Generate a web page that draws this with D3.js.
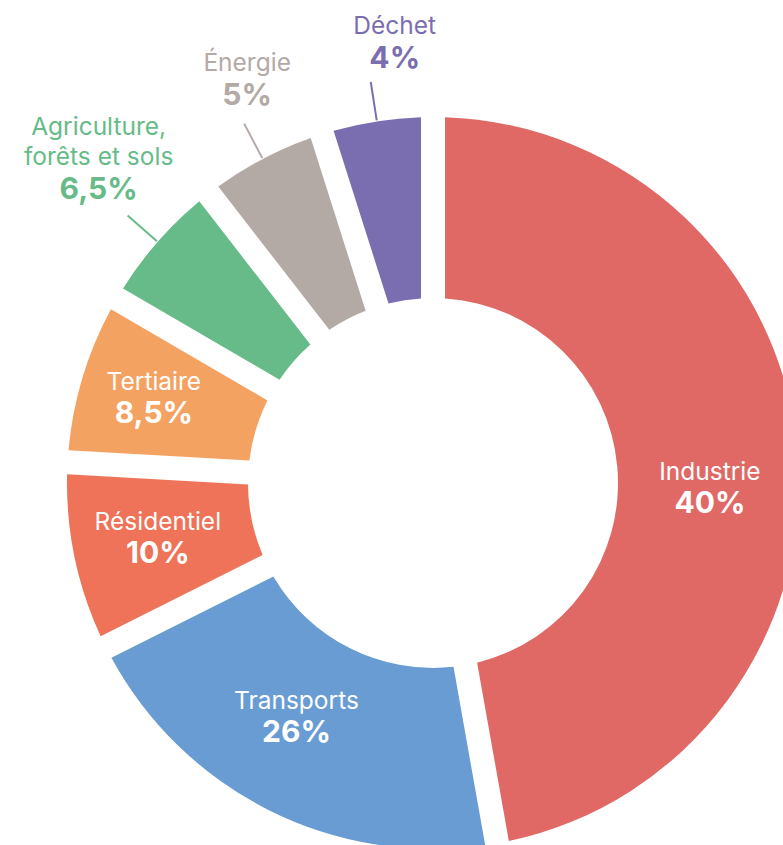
<!DOCTYPE html>
<html>
<head>
<meta charset="utf-8">
<script src="https://cdn.jsdelivr.net/npm/d3@7"></script>
<style>
  body { margin: 0; background: #fff; }
  svg { display: block; font-family: Inter, "Noto Sans", sans-serif; }
</style>
</head>
<body>
<script>
// sectors, clockwise from 12 o'clock
const sectors = ["Industrie", "Transports", "Résidentiel", "Tertiaire", "Agriculture, forêts et sols", "Énergie", "Déchet"];
const nameLines = [["Industrie"], ["Transports"], ["Résidentiel"], ["Tertiaire"], ["Agriculture,", "forêts et sols"], ["Énergie"], ["Déchet"]];
// printed percentages
const percentages = [40, 26, 10, 8.5, 6.5, 5, 4];
// angular share of each slice as drawn in the picture (% of the full circle)
const arcShares = [47.2, 20.4, 8.3, 7.5, 6.1, 5.6, 4.9];
const colors = ["#e06966", "#689cd3", "#ee7359", "#f4a262", "#66bb88", "#b3aaa6", "#7b6eb0"];

const width = 783, height = 845;
const cx = 433, cy = 483;
const rOuter = 366, rInner = 185, gap = 24;

const data = sectors.map((s, i) => ({
  name: s, lines: nameLines[i], pct: percentages[i], share: arcShares[i], color: colors[i]
}));

const fr = d3.formatLocale({ decimal: ",", thousands: " ", grouping: [3], currency: ["", " €"] });
const fmtPct = v => fr.format(Number.isInteger(v) ? "d" : ".1f")(v) + "%";

const svg = d3.select("body").append("svg")
  .attr("width", width)
  .attr("height", height);

const g = svg.append("g").attr("transform", `translate(${cx},${cy})`);

const pie = d3.pie().sort(null).value(d => d.share);
const arcs = pie(data);

const arc = d3.arc()
  .innerRadius(rInner)
  .outerRadius(rOuter)
  .padRadius(rOuter)
  .padAngle(gap / rOuter);

g.selectAll("path.slice")
  .data(arcs)
  .enter()
  .append("path")
  .attr("class", "slice")
  .attr("d", arc)
  .attr("fill", d => d.data.color);

const mid = d => (d.startAngle + d.endAngle) / 2;

// labels inside the big slices
const inside = arcs.filter(d => d.data.share >= 7);
const insideNudge = { "Industrie": [-2, 32], "Transports": [-11, -14], "Tertiaire": [-11, -2], "Résidentiel": [-1, 0] };

const inLab = g.selectAll("g.inlabel")
  .data(inside)
  .enter()
  .append("g")
  .attr("class", "inlabel")
  .attr("transform", d => {
    const p = d3.pointRadial(mid(d), 280);
    const n = insideNudge[d.data.name] || [0, 0];
    return `translate(${p[0] + n[0]},${p[1] + n[1]})`;
  });

inLab.append("text")
  .attr("text-anchor", "middle")
  .attr("y", -10)
  .attr("fill", "#fff")
  .attr("font-size", 24.5)
  .attr("font-weight", 400)
  .text(d => d.data.lines[0]);

inLab.append("text")
  .attr("text-anchor", "middle")
  .attr("y", 23)
  .attr("fill", "#fff")
  .attr("font-size", 30)
  .attr("font-weight", 700)
  .text(d => fmtPct(d.data.pct));

// small slices get a leader line and a label outside
const outside = arcs.filter(d => d.data.share < 7);
const outsideShift = { "Agriculture, forêts et sols": [-29, -2], "Énergie": [3, -5], "Déchet": [24, 0] };

const outLab = g.selectAll("g.outlabel")
  .data(outside)
  .enter()
  .append("g")
  .attr("class", "outlabel");

outLab.append("line")
  .attr("x1", d => d3.pointRadial(mid(d), rOuter + 1)[0])
  .attr("y1", d => d3.pointRadial(mid(d), rOuter + 1)[1])
  .attr("x2", d => d3.pointRadial(mid(d), rOuter + 40)[0])
  .attr("y2", d => d3.pointRadial(mid(d), rOuter + 40)[1])
  .attr("stroke", d => d.data.color)
  .attr("stroke-width", 2);

const outText = outLab.append("text")
  .attr("text-anchor", "middle")
  .attr("fill", d => d.data.color)
  .attr("transform", d => {
    const p = d3.pointRadial(mid(d), rOuter + 40);
    const s = outsideShift[d.data.name];
    return `translate(${p[0] + s[0]},${p[1] - 14 + s[1]})`;
  });

outText.each(function(d) {
  const t = d3.select(this);
  const n = d.data.lines.length;
  d.data.lines.forEach((line, i) => {
    t.append("tspan")
      .attr("x", 0)
      .attr("y", -34 - (n - 1 - i) * 30)
      .attr("font-size", 24.5)
      .attr("font-weight", 400)
      .text(line);
  });
  t.append("tspan")
    .attr("x", 0)
    .attr("y", 0)
    .attr("font-size", 30)
    .attr("font-weight", 700)
    .text(fmtPct(d.data.pct));
});
</script>
</body>
</html>
